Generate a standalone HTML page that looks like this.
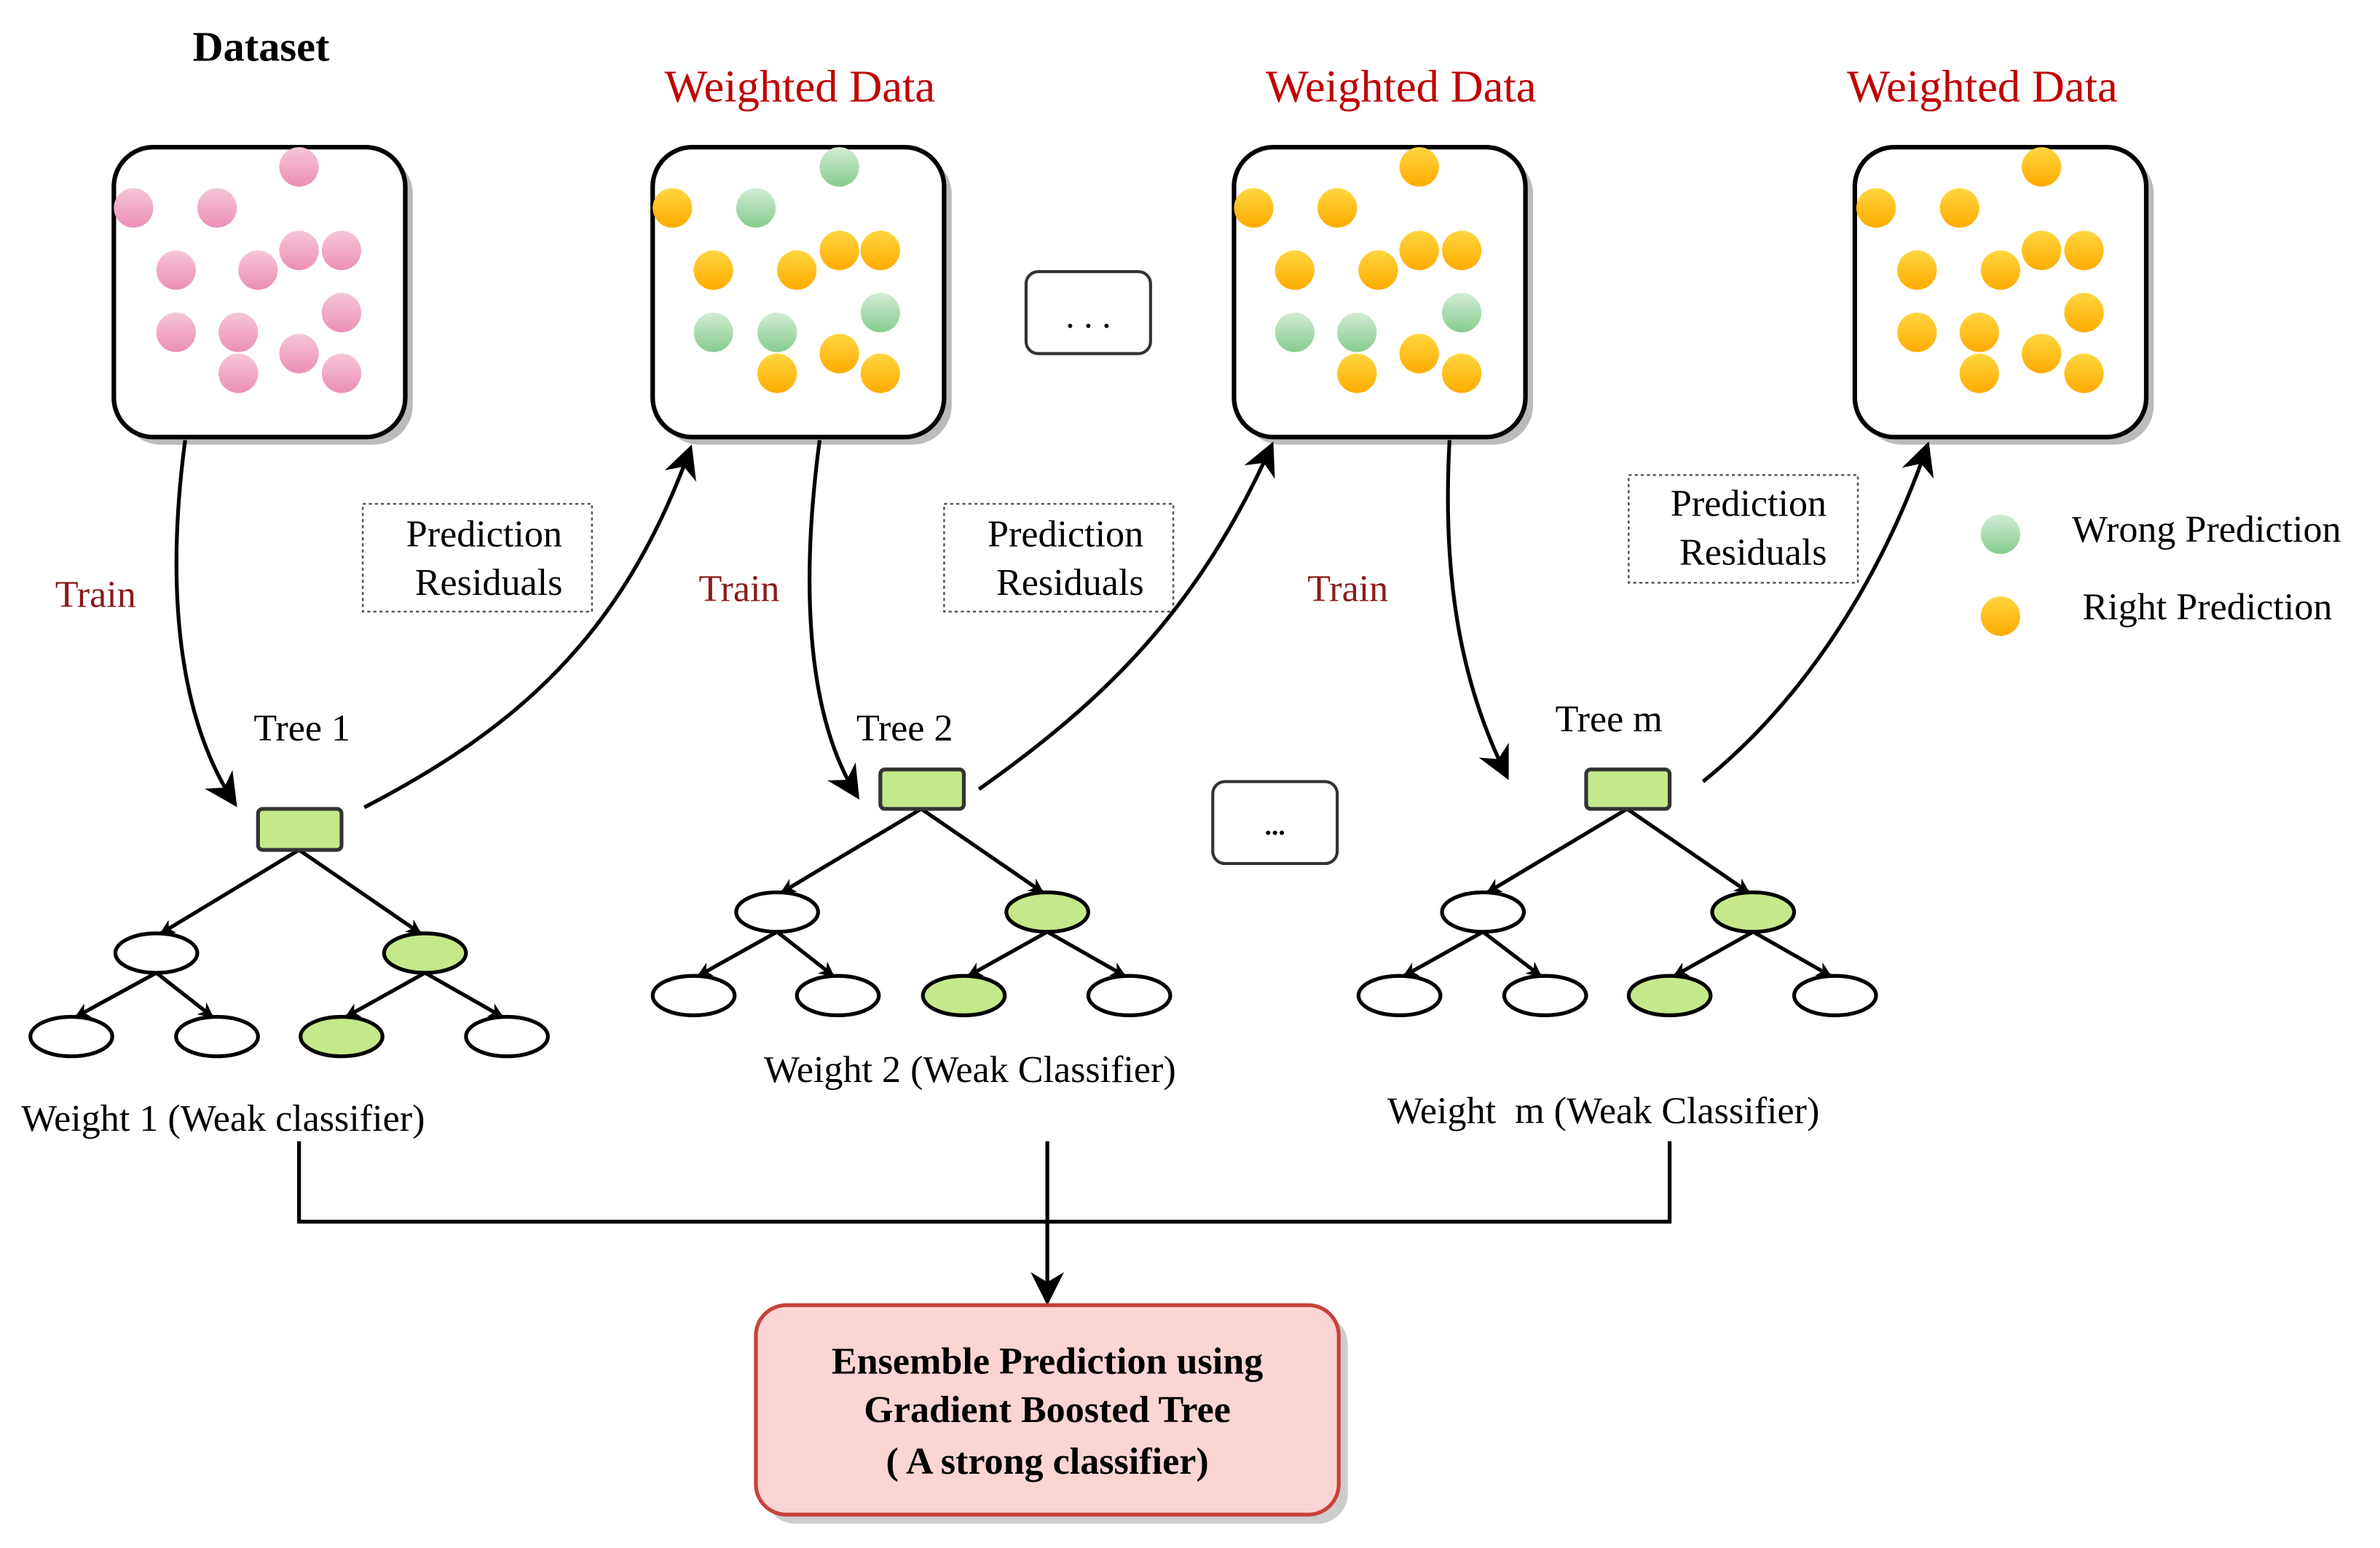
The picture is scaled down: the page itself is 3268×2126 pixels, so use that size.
<!DOCTYPE html>
<html><head><meta charset="utf-8"><style>html,body{margin:0;padding:0;background:#fff}svg{display:block}svg text{font-family:"Liberation Serif","Times New Roman",serif}</style></head>
<body>
<svg width="3268" height="2126" viewBox="0 0 1568 1020" preserveAspectRatio="none" xmlns="http://www.w3.org/2000/svg" style="font-family:'Liberation Serif',serif">
<defs>
<linearGradient id="pk" x1="0" y1="0" x2="0" y2="1"><stop offset="0" stop-color="#f5c6d8"/><stop offset="1" stop-color="#ec8fb5"/></linearGradient>
<linearGradient id="gr" x1="0" y1="0" x2="0" y2="1"><stop offset="0" stop-color="#d2ecd4"/><stop offset="1" stop-color="#86cc8e"/></linearGradient>
<linearGradient id="or" x1="0" y1="0" x2="0" y2="1"><stop offset="0" stop-color="#ffd640"/><stop offset="1" stop-color="#ffab00"/></linearGradient>
<marker id="ah" viewBox="0 0 10 10" refX="9" refY="5" markerWidth="10" markerHeight="10" markerUnits="userSpaceOnUse" orient="auto"><path d="M0,0L10,5L0,10L3,5z" fill="#000"/></marker>
<marker id="ab" viewBox="0 0 10 10" refX="9" refY="5" markerWidth="22" markerHeight="22" markerUnits="userSpaceOnUse" orient="auto"><path d="M0,0L10,5L0,10L3,5z" fill="#000"/></marker>
</defs>

<text x="172" y="40" font-size="28" font-weight="bold" text-anchor="middle">Dataset</text>
<g font-size="30" fill="#c00000" text-anchor="middle">
<text x="527" y="67">Weighted Data</text><text x="923" y="67">Weighted Data</text><text x="1306" y="67">Weighted Data</text>
</g>

<g stroke="#000" stroke-width="3" fill="#fff">
<rect x="80" y="102" width="192" height="191" rx="26" fill="#bbb" stroke="none"/>
<rect x="435" y="102" width="192" height="191" rx="26" fill="#bbb" stroke="none"/>
<rect x="818" y="102" width="192" height="191" rx="26" fill="#bbb" stroke="none"/>
<rect x="1227" y="102" width="192" height="191" rx="26" fill="#bbb" stroke="none"/>
<rect x="75" y="97" width="192" height="191" rx="26"/>
<rect x="430" y="97" width="192" height="191" rx="26"/>
<rect x="813" y="97" width="192" height="191" rx="26"/>
<rect x="1222" y="97" width="192" height="191" rx="26"/>
</g>
<g fill="url(#pk)">
<circle cx="88" cy="137" r="13"/><circle cx="143" cy="137" r="13"/><circle cx="197" cy="110" r="13"/><circle cx="116" cy="178" r="13"/><circle cx="170" cy="178" r="13"/><circle cx="197" cy="165" r="13"/><circle cx="225" cy="165" r="13"/><circle cx="116" cy="219" r="13"/><circle cx="157" cy="219" r="13"/><circle cx="225" cy="206" r="13"/><circle cx="157" cy="246" r="13"/><circle cx="197" cy="233" r="13"/><circle cx="225" cy="246" r="13"/>
</g>
<g fill="url(#or)">
<circle cx="443" cy="137" r="13"/><circle cx="470" cy="178" r="13"/><circle cx="525" cy="178" r="13"/><circle cx="553" cy="165" r="13"/><circle cx="580" cy="165" r="13"/><circle cx="512" cy="246" r="13"/><circle cx="553" cy="233" r="13"/><circle cx="580" cy="246" r="13"/>
<circle cx="826" cy="137" r="13"/><circle cx="881" cy="137" r="13"/><circle cx="935" cy="110" r="13"/><circle cx="853" cy="178" r="13"/><circle cx="908" cy="178" r="13"/><circle cx="935" cy="165" r="13"/><circle cx="963" cy="165" r="13"/><circle cx="894" cy="246" r="13"/><circle cx="935" cy="233" r="13"/><circle cx="963" cy="246" r="13"/>
<circle cx="1236" cy="137" r="13"/><circle cx="1291" cy="137" r="13"/><circle cx="1345" cy="110" r="13"/><circle cx="1263" cy="178" r="13"/><circle cx="1318" cy="178" r="13"/><circle cx="1345" cy="165" r="13"/><circle cx="1373" cy="165" r="13"/><circle cx="1263" cy="219" r="13"/><circle cx="1304" cy="219" r="13"/><circle cx="1373" cy="206" r="13"/><circle cx="1304" cy="246" r="13"/><circle cx="1345" cy="233" r="13"/><circle cx="1373" cy="246" r="13"/>
<circle cx="1318" cy="406" r="13"/>
</g>
<g fill="url(#gr)">
<circle cx="498" cy="137" r="13"/><circle cx="553" cy="110" r="13"/><circle cx="470" cy="219" r="13"/><circle cx="512" cy="219" r="13"/><circle cx="580" cy="206" r="13"/>
<circle cx="853" cy="219" r="13"/><circle cx="894" cy="219" r="13"/><circle cx="963" cy="206" r="13"/>
<circle cx="1318" cy="352" r="13"/>
</g>

<g fill="#fff" stroke="#333" stroke-width="2">
<rect x="676" y="179" width="82" height="54" rx="8"/>
<rect x="799" y="515" width="82" height="54" rx="8"/>
</g>
<text x="717" y="216" font-size="24" text-anchor="middle">. . .</text>
<text x="840" y="550" font-size="18" font-weight="bold" text-anchor="middle">...</text>

<g fill="none" stroke="#555" stroke-width="1.2" stroke-dasharray="2,2">
<rect x="239" y="332" width="151" height="71"/><rect x="622" y="332" width="151" height="71"/><rect x="1073" y="313" width="151" height="71"/>
</g>
<g font-size="25" text-anchor="middle">
<text x="319" y="360">Prediction</text><text x="322" y="392">Residuals</text>
<text x="702" y="360">Prediction</text><text x="705" y="392">Residuals</text>
<text x="1152" y="340">Prediction</text><text x="1155" y="372">Residuals</text>
</g>
<g font-size="25" fill="#8b1a1a" text-anchor="middle">
<text x="63" y="400">Train</text><text x="487" y="396">Train</text><text x="888" y="396">Train</text>
</g>
<g font-size="25">
<text x="1365" y="357">Wrong Prediction</text><text x="1372" y="408">Right Prediction</text>
</g>

<g fill="none" stroke="#000" stroke-width="2.5" marker-end="url(#ab)">
<path d="M122,290 C110,380 115,470 155,530"/>
<path d="M240,532 C340,480 410,420 455,295"/>
<path d="M540,290 C528,380 530,470 565,525"/>
<path d="M645,520 C730,460 790,400 838,293"/>
<path d="M955,290 C950,380 962,450 993,512"/>
<path d="M1122,515 C1190,460 1240,380 1270,293"/>
</g>

<g font-size="25" text-anchor="middle">
<text x="199" y="488">Tree 1</text><text x="596" y="488">Tree 2</text><text x="1060" y="482">Tree m</text>
</g>

<g stroke="#000" stroke-width="2.5" marker-end="url(#ah)">
<line x1="197" y1="560" x2="106" y2="615"/><line x1="197" y1="560" x2="277" y2="615"/>
<line x1="103" y1="641" x2="50" y2="670"/><line x1="103" y1="641" x2="140" y2="670"/>
<line x1="280" y1="641" x2="228" y2="670"/><line x1="280" y1="641" x2="331" y2="670"/>
<line x1="607" y1="533" x2="515" y2="588"/><line x1="607" y1="533" x2="687" y2="588"/>
<line x1="512" y1="614" x2="460" y2="643"/><line x1="512" y1="614" x2="549" y2="643"/>
<line x1="690" y1="614" x2="638" y2="643"/><line x1="690" y1="614" x2="741" y2="643"/>
<line x1="1072" y1="533" x2="980" y2="588"/><line x1="1072" y1="533" x2="1152" y2="588"/>
<line x1="977" y1="614" x2="925" y2="643"/><line x1="977" y1="614" x2="1015" y2="643"/>
<line x1="1155" y1="614" x2="1103" y2="643"/><line x1="1155" y1="614" x2="1206" y2="643"/>
</g>
<g stroke="#000" stroke-width="2.5" fill="#fff">
<rect x="170" y="533" width="55" height="27" rx="3" fill="#c5e88a" stroke="#333"/>
<rect x="580" y="507" width="55" height="26" rx="3" fill="#c5e88a" stroke="#333"/>
<rect x="1045" y="507" width="55" height="26" rx="3" fill="#c5e88a" stroke="#333"/>
<ellipse cx="103" cy="628" rx="27" ry="13"/><ellipse cx="280" cy="628" rx="27" ry="13" fill="#c5e88a"/>
<ellipse cx="47" cy="683" rx="27" ry="13"/><ellipse cx="143" cy="683" rx="27" ry="13"/><ellipse cx="225" cy="683" rx="27" ry="13" fill="#c5e88a"/><ellipse cx="334" cy="683" rx="27" ry="13"/>
<ellipse cx="512" cy="601" rx="27" ry="13"/><ellipse cx="690" cy="601" rx="27" ry="13" fill="#c5e88a"/>
<ellipse cx="457" cy="656" rx="27" ry="13"/><ellipse cx="552" cy="656" rx="27" ry="13"/><ellipse cx="635" cy="656" rx="27" ry="13" fill="#c5e88a"/><ellipse cx="744" cy="656" rx="27" ry="13"/>
<ellipse cx="977" cy="601" rx="27" ry="13"/><ellipse cx="1155" cy="601" rx="27" ry="13" fill="#c5e88a"/>
<ellipse cx="922" cy="656" rx="27" ry="13"/><ellipse cx="1018" cy="656" rx="27" ry="13"/><ellipse cx="1100" cy="656" rx="27" ry="13" fill="#c5e88a"/><ellipse cx="1209" cy="656" rx="27" ry="13"/>
</g>

<g font-size="25">
<text x="14" y="745">Weight 1 (Weak classifier)</text>
<text x="639" y="713" text-anchor="middle">Weight 2 (Weak Classifier)</text>
<text x="914" y="740" xml:space="preserve">Weight  m (Weak Classifier)</text>
</g>

<g fill="none" stroke="#000" stroke-width="2.5">
<polyline points="197,752 197,805 1100,805 1100,752"/>
<line x1="690" y1="752" x2="690" y2="858" marker-end="url(#ab)"/>
</g>

<rect x="504" y="866" width="384" height="138" rx="20" fill="#ccc"/>
<rect x="498" y="860" width="384" height="138" rx="20" fill="#fbd5d3" stroke="#c8413a" stroke-width="2.5"/>
<g font-size="25" font-weight="bold" text-anchor="middle">
<text x="690" y="905">Ensemble Prediction using</text>
<text x="690" y="937">Gradient Boosted Tree</text>
<text x="690" y="971">( A strong classifier)</text>
</g>
</svg>
</body></html>
